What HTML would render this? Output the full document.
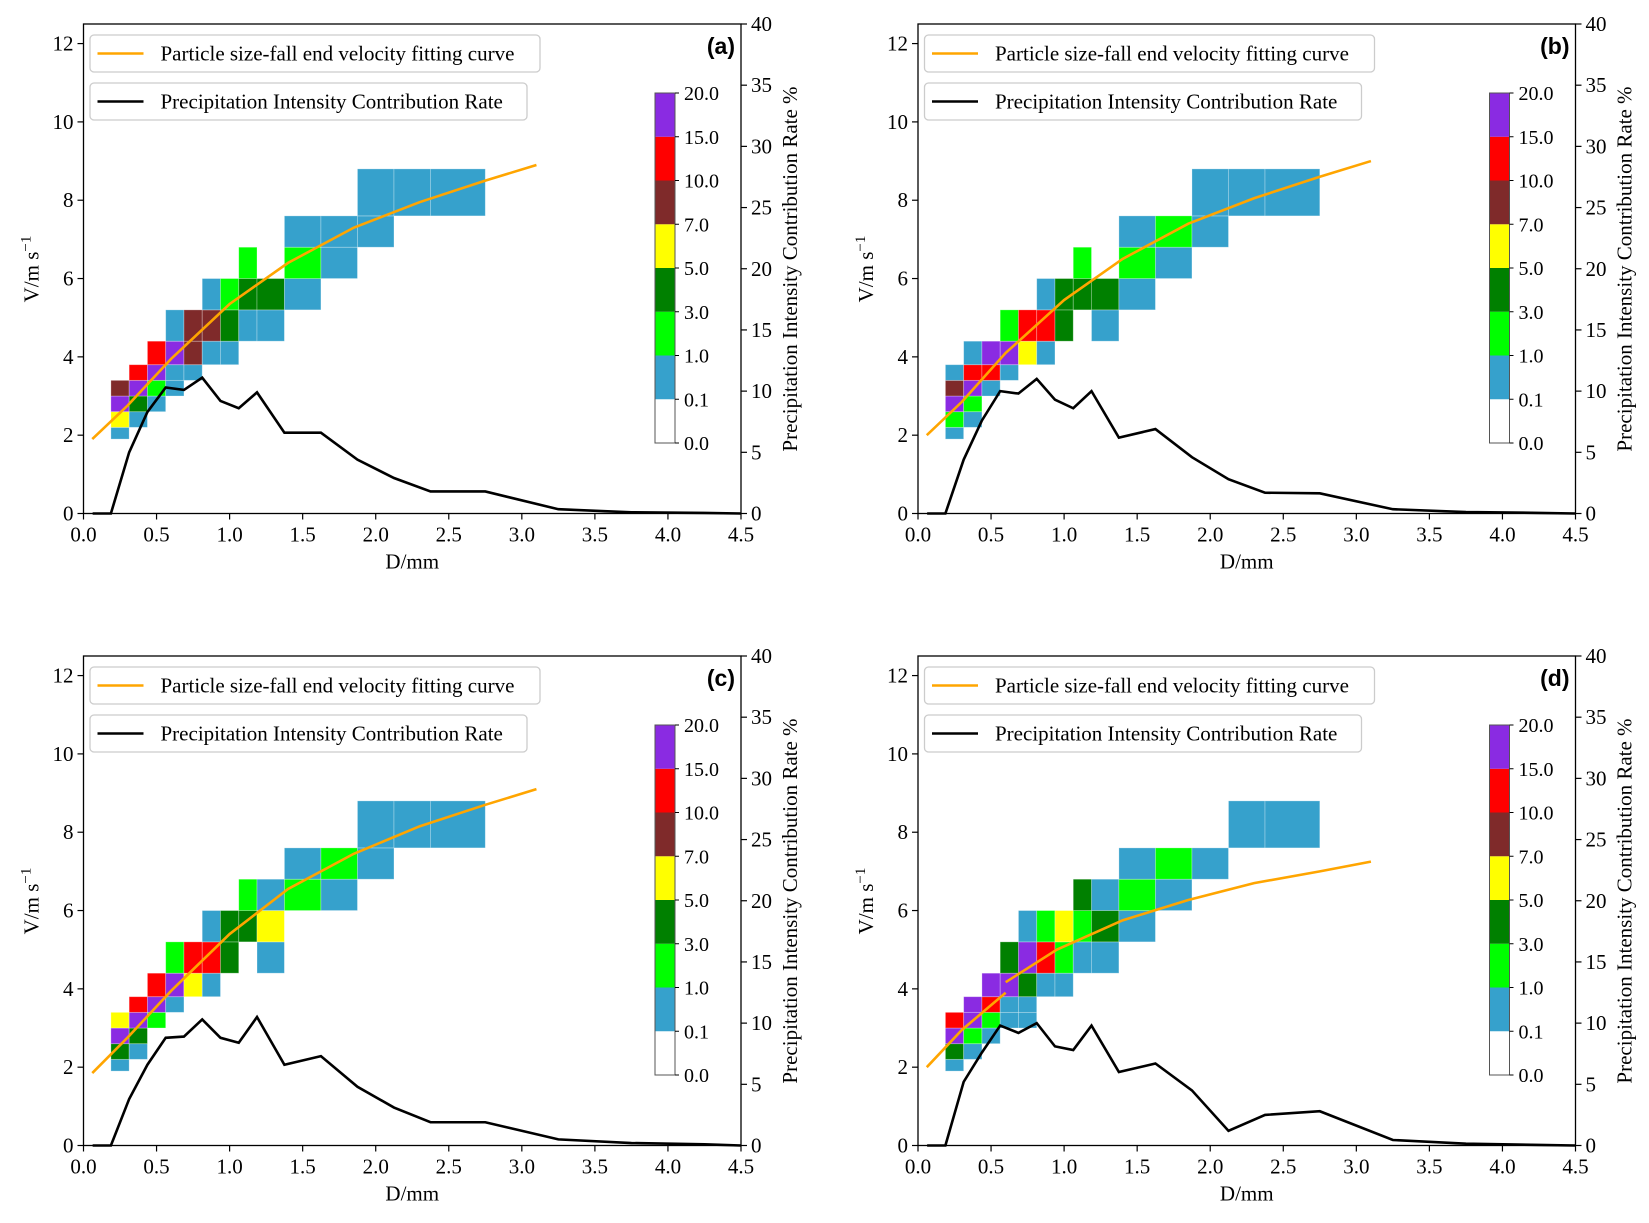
<!DOCTYPE html>
<html><head><meta charset="utf-8">
<style>
html,body{margin:0;padding:0;background:#fff;}
svg text{font-family:"Liberation Serif",serif;fill:#000;}
svg text.sans{font-family:"Liberation Sans",sans-serif;}
</style></head>
<body>
<svg id="fig" width="1649" height="1218" viewBox="0 0 1649 1218" xmlns="http://www.w3.org/2000/svg"></svg>
<script>
// ---- data ----
const dEdges=[0.1875,0.3125,0.4375,0.5625,0.6875,0.8125,0.9375,1.0625,1.1875,1.375,1.625,1.875,2.125,2.375,2.75];
const vEdges=[1.9,2.2,2.6,3.0,3.4,3.8,4.4,5.2,6.0,6.8,7.6,8.8];
const cbBounds=[0,0.1,1,3,5,7,10,15,20];
const cbColors=['#ffffff','#36a1cc','#00ff00','#008000','#ffff00','#7f2a2a','#ff0000','#8a2be2'];
const xTicks=[0,0.5,1,1.5,2,2.5,3,3.5,4,4.5];
const yTicks=[0,2,4,6,8,10,12];
const y2Ticks=[0,5,10,15,20,25,30,35,40];
const picrD=[0.0625,0.1875,0.3125,0.4375,0.5625,0.6875,0.8125,0.9375,1.0625,1.1875,1.375,1.625,1.875,2.125,2.375,2.75,3.25,3.75,4.25,4.5];
const picrA=[0,0,5.0,8.3,10.3,10.1,11.1,9.2,8.6,9.9,6.6,6.6,4.4,2.9,1.8,1.8,0.35,0.1,0.05,0];
const picrB=[0,0,4.4,7.6,10.0,9.8,11.0,9.3,8.6,10.0,6.2,6.9,4.6,2.8,1.7,1.65,0.35,0.12,0.05,0];
const picrC=[0,0,3.8,6.6,8.8,8.9,10.3,8.8,8.4,10.5,6.6,7.3,4.8,3.1,1.9,1.9,0.5,0.2,0.1,0];
const picrD2=[0,0,5.2,7.6,9.8,9.2,10.0,8.1,7.8,9.8,6.0,6.7,4.5,1.2,2.5,2.8,0.45,0.15,0.05,0];
const fitD=[0.06,0.3,0.6,1.0,1.4,1.85,2.3,2.75,3.1];
const fitA=[1.9,2.75,3.95,5.35,6.4,7.3,7.95,8.5,8.9];
const fitB=[2.0,2.85,4.1,5.45,6.5,7.4,8.05,8.6,9.0];
const fitC=[1.85,2.75,3.95,5.4,6.55,7.45,8.15,8.7,9.1];
const fitD1x=[0.06,0.3,0.6];
const fitD1v=[2.0,2.95,3.9];
const fitD2x=[0.6,0.95,1.4,1.85,2.3,2.75,3.1];
const fitD2v=[4.17,5.0,5.75,6.27,6.7,7.0,7.25];
// heatmap values rows r0..r10 (low V to high), cols c0..c13
const gridA=[
[.5,0,0,0,0,0,0,0,0,0,0,0,0,0],
[6,.5,0,0,0,0,0,0,0,0,0,0,0,0],
[17,4,.5,0,0,0,0,0,0,0,0,0,0,0],
[8,17,2,.5,0,0,0,0,0,0,0,0,0,0],
[0,12,17,.5,.5,0,0,0,0,0,0,0,0,0],
[0,0,12,17,8,.5,.5,0,0,0,0,0,0,0],
[0,0,0,.5,8,8,4,.5,.5,0,0,0,0,0],
[0,0,0,0,0,.5,2,4,4,.5,0,0,0,0],
[0,0,0,0,0,0,0,2,0,2,.5,0,0,0],
[0,0,0,0,0,0,0,0,0,.5,.5,.5,0,0],
[0,0,0,0,0,0,0,0,0,0,0,.5,.5,.5]];
const gridB=[
[.5,0,0,0,0,0,0,0,0,0,0,0,0,0],
[2,.5,0,0,0,0,0,0,0,0,0,0,0,0],
[17,2,0,0,0,0,0,0,0,0,0,0,0,0],
[8,17,.5,0,0,0,0,0,0,0,0,0,0,0],
[.5,12,12,.5,0,0,0,0,0,0,0,0,0,0],
[0,.5,17,17,6,.5,0,0,0,0,0,0,0,0],
[0,0,0,2,12,12,4,0,.5,0,0,0,0,0],
[0,0,0,0,0,.5,4,4,4,.5,0,0,0,0],
[0,0,0,0,0,0,0,2,0,2,.5,0,0,0],
[0,0,0,0,0,0,0,0,0,.5,2,.5,0,0],
[0,0,0,0,0,0,0,0,0,0,0,.5,.5,.5]];
const gridC=[
[.5,0,0,0,0,0,0,0,0,0,0,0,0,0],
[4,.5,0,0,0,0,0,0,0,0,0,0,0,0],
[17,4,0,0,0,0,0,0,0,0,0,0,0,0],
[6,17,2,0,0,0,0,0,0,0,0,0,0,0],
[0,12,17,.5,0,0,0,0,0,0,0,0,0,0],
[0,0,12,17,6,.5,0,0,0,0,0,0,0,0],
[0,0,0,2,12,12,4,0,.5,0,0,0,0,0],
[0,0,0,0,0,.5,4,4,6,0,0,0,0,0],
[0,0,0,0,0,0,0,2,.5,2,.5,0,0,0],
[0,0,0,0,0,0,0,0,0,.5,2,.5,0,0],
[0,0,0,0,0,0,0,0,0,0,0,.5,.5,.5]];
const gridD=[
[.5,0,0,0,0,0,0,0,0,0,0,0,0,0],
[4,.5,0,0,0,0,0,0,0,0,0,0,0,0],
[17,2,.5,0,0,0,0,0,0,0,0,0,0,0],
[12,17,2,.5,.5,0,0,0,0,0,0,0,0,0],
[0,17,12,.5,.5,0,0,0,0,0,0,0,0,0],
[0,0,17,17,4,.5,.5,0,0,0,0,0,0,0],
[0,0,0,4,17,12,2,.5,.5,0,0,0,0,0],
[0,0,0,0,.5,2,6,2,4,.5,0,0,0,0],
[0,0,0,0,0,0,0,4,.5,2,.5,0,0,0],
[0,0,0,0,0,0,0,0,0,.5,2,.5,0,0],
[0,0,0,0,0,0,0,0,0,0,0,0,.5,.5]];

const NS='http://www.w3.org/2000/svg';
const svg=document.getElementById('fig');
function mk(tag,attrs,parent){const e=document.createElementNS(NS,tag);for(const k in attrs)e.setAttribute(k,attrs[k]);(parent||svg).appendChild(e);return e;}
function colorFor(v){for(let i=cbBounds.length-2;i>=0;i--){if(v>=cbBounds[i])return cbColors[i];}return cbColors[0];}

const panels=[
 {id:'a',L:83.5,T:24,grid:gridA,picr:picrA,fits:[[fitD,fitA]]},
 {id:'b',L:918,T:24,grid:gridB,picr:picrB,fits:[[fitD,fitB]]},
 {id:'c',L:83.5,T:656,grid:gridC,picr:picrC,fits:[[fitD,fitC]]},
 {id:'d',L:918,T:656,grid:gridD,picr:picrD2,fits:[[fitD1x,fitD1v],[fitD2x,fitD2v]]}];
const W=657.5,H=489.5;

panels.forEach(p=>{
 const g=mk('g',{});
 
 
 const X=d=>p.L+d/4.5*W;
 const Y=v=>p.T+H-v/12.5*H;
 const Y2=v=>p.T+H-v/40*H;
 const hm=mk('g',{},g);
 
 
 p.grid.forEach((row,ri)=>{row.forEach((val,ci)=>{
  if(val<=0)return;
  const r=mk('rect',{x:X(dEdges[ci]),y:Y(vEdges[ri+1]),width:X(dEdges[ci+1])-X(dEdges[ci]),height:Y(vEdges[ri])-Y(vEdges[ri+1]),fill:colorFor(val),stroke:'rgba(255,255,255,0.35)','stroke-width':0.8},hm);
  
  
 });});
 p.fits.forEach(f=>{
  const pts=f[0].map((d,i)=>X(d)+','+Y(f[1][i])).join(' ');
  const l=mk('polyline',{points:pts,fill:'none',stroke:'#ffa500','stroke-width':2.6},g);
  
  
 });
 const pts2=picrD.map((d,i)=>X(d)+','+Y2(p.picr[i])).join(' ');
 const pl=mk('polyline',{points:pts2,fill:'none',stroke:'#000','stroke-width':2.6,'stroke-linejoin':'miter'},g);
 
 
 const fr=mk('rect',{x:p.L,y:p.T,width:W,height:H,fill:'none',stroke:'#000','stroke-width':1.3},g);
 
 
 xTicks.forEach(t=>{
  mk('line',{x1:X(t),x2:X(t),y1:p.T+H,y2:p.T+H+6,stroke:'#000','stroke-width':1.2},g);
  const tx=mk('text',{x:X(t),y:p.T+H+28,'font-size':21,'text-anchor':'middle'},g);
  tx.textContent=t.toFixed(1);
  
  
 });
 yTicks.forEach(t=>{
  mk('line',{x1:p.L-6,x2:p.L,y1:Y(t),y2:Y(t),stroke:'#000','stroke-width':1.2},g);
  const tx=mk('text',{x:p.L-10,y:Y(t)+7,'font-size':21,'text-anchor':'end'},g);
  tx.textContent=t;
  
  
 });
 y2Ticks.forEach(t=>{
  mk('line',{x1:p.L+W,x2:p.L+W+6,y1:Y2(t),y2:Y2(t),stroke:'#000','stroke-width':1.2},g);
  const tx=mk('text',{x:p.L+W+10,y:Y2(t)+7,'font-size':21,'text-anchor':'start'},g);
  tx.textContent=t;
  
  
 });
 const xl=mk('text',{x:p.L+W/2,y:p.T+H+55,'font-size':21,'text-anchor':'middle'},g);
 xl.textContent='D/mm';
 
 
 const yl=mk('text',{x:0,y:0,'font-size':21,'text-anchor':'middle',transform:`translate(${p.L-45},${p.T+245}) rotate(-90)`},g);
 yl.innerHTML='V/m s<tspan dy="-8" font-size="15">−1</tspan>';
 
 
 const y2l=mk('text',{x:0,y:0,'font-size':21,'text-anchor':'middle',transform:`translate(${p.L+W+56},${p.T+245}) rotate(-90)`},g);
 y2l.textContent='Precipitation Intensity Contribution Rate %';
 
 
 const pl2=mk('text',{x:p.L+W-6,y:p.T+30,'font-size':23,'font-weight':'bold','text-anchor':'end','class':'sans'},g);
 pl2.textContent='('+p.id+')';
 
 
 const legs=[['#ffa500','Particle size-fall end velocity fitting curve',450],['#000','Precipitation Intensity Contribution Rate',437]];
 legs.forEach((lg,i)=>{
  const ly=p.T+11+i*48;
  const lgG=mk('g',{},g);
  
  
  mk('rect',{x:p.L+6.5,y:ly,width:lg[2],height:37,rx:4,fill:'rgba(255,255,255,0.8)',stroke:'#cccccc','stroke-width':1.3},lgG);
  mk('line',{x1:p.L+14,x2:p.L+60,y1:ly+18.5,y2:ly+18.5,stroke:lg[0],'stroke-width':2.6},lgG);
  const t=mk('text',{x:p.L+77,y:ly+25.5,'font-size':21},lgG);
  t.textContent=lg[1];
 });
 const cbx=p.L+571.5,cbT=p.T+69,cbH=350,cbW=20;
 const cb=mk('g',{},g);
 
 
 const seg=cbH/(cbBounds.length-1);
 cbColors.forEach((c,i)=>{
  mk('rect',{x:cbx,y:cbT+cbH-(i+1)*seg,width:cbW,height:seg,fill:c},cb);
 });
 mk('rect',{x:cbx,y:cbT,width:cbW,height:cbH,fill:'none',stroke:'#555','stroke-width':1},cb);
 cbBounds.forEach((b,i)=>{
  const yy=cbT+cbH-i*seg;
  mk('line',{x1:cbx+cbW,x2:cbx+cbW+4,y1:yy,y2:yy,stroke:'#000','stroke-width':1},cb);
  const t=mk('text',{x:cbx+cbW+9,y:yy+7,'font-size':20},cb);
  t.textContent=b.toFixed(1);
  
  
 });
});
</script>
</body></html>
